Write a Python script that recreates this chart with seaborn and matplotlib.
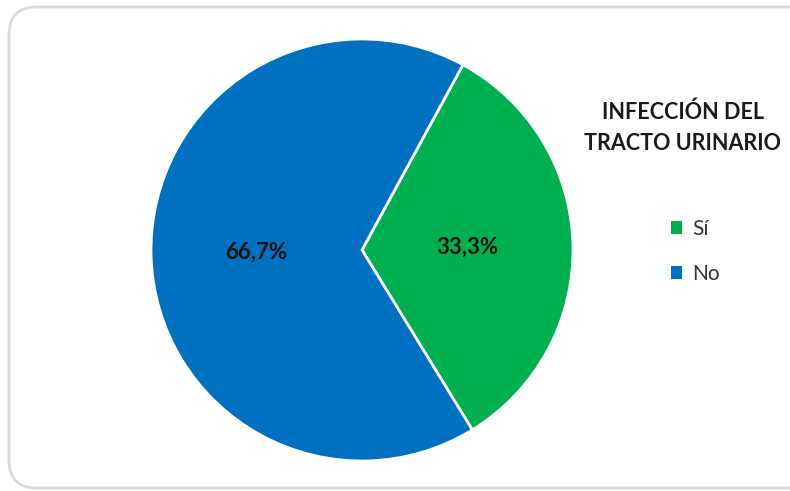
import matplotlib
matplotlib.use("Agg")
import matplotlib.pyplot as plt
from matplotlib.patches import FancyBboxPatch, Patch
import seaborn as sns

# Urinary tract infection share
categories = ["Sí", "No"]
values = [33.3, 66.7]
colors = ["#00B050", "#0070C0"]
title_text = "INFECCIÓN DEL\nTRACTO URINARIO"

sns.set_theme(style="white")
plt.rcParams["font.family"] = ["Lato", "DejaVu Sans"]

W, H = 790, 491
fig = plt.figure(figsize=(W / 100, H / 100), dpi=100)
fig.patch.set_facecolor("white")

# rounded chart-area frame
frame = FancyBboxPatch((9 / W, 3 / H), (W + 40 - 9) / W, (484 - 3) / H,
                       boxstyle="round,pad=0,rounding_size=0.035",
                       transform=fig.transFigure, facecolor="none",
                       edgecolor="#D9D9D9", linewidth=2, mutation_aspect=W / H,
                       clip_on=False, zorder=0)
fig.patches.append(frame)

cx, cy, r = 362, 250, 211
ax = fig.add_axes([(cx - r) / W, (H - cy - r) / H, 2 * r / W, 2 * r / H])
wedges, texts, autotexts = ax.pie(
    values, colors=colors, startangle=61.4, counterclock=False,
    autopct=lambda p: f"{p:.1f}%".replace(".", ","), pctdistance=0.5,
    wedgeprops=dict(edgecolor="white", linewidth=2),
    textprops=dict(fontsize=16, fontweight="bold", color="#111111"))
ax.set_xlim(-1, 1)
ax.set_ylim(-1, 1)
ax.set_aspect("equal")
ax.axis("off")

fig.text(683 / W, 1 - 128 / H, title_text, ha="center", va="center",
         fontsize=15.5, fontweight="bold", color="#1a1a1a", linespacing=1.6)

handles = [Patch(facecolor=c, edgecolor="none") for c in colors]
leg = fig.legend(handles, categories, loc="upper left",
                 bbox_to_anchor=(652 / W, 1 - 200 / H), frameon=False,
                 fontsize=15, handlelength=0.55, handleheight=0.55,
                 handletextpad=0.5, labelspacing=1.2)
for t in leg.get_texts():
    t.set_color("#333333")

fig.savefig("out.png", dpi=100)
